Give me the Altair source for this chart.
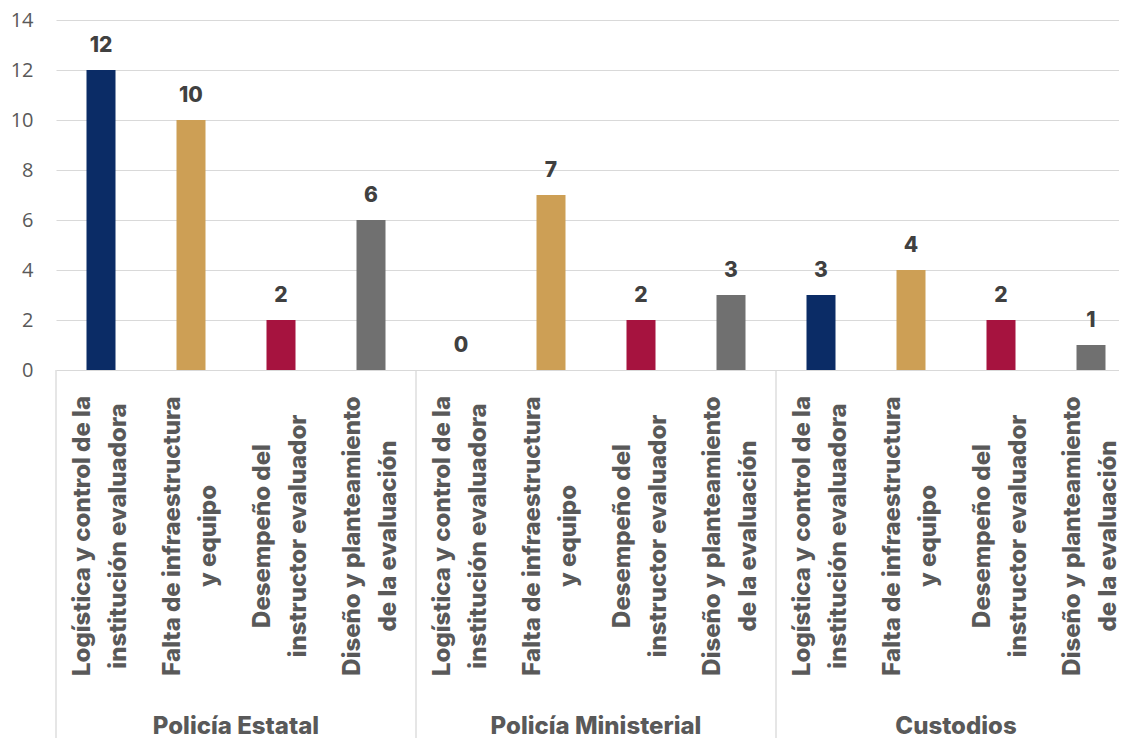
import altair as alt
import pandas as pd

# ---- data ----
groups = ["Policía Estatal", "Policía Ministerial", "Custodios"]
categories = [
    "Logística y control de la institución evaluadora",
    "Falta de infraestructura y equipo",
    "Desempeño del instructor evaluador",
    "Diseño y planteamiento de la evaluación",
]
label_lines = [
    "Logística y control de la\ninstitución evaluadora",
    "Falta de infraestructura\ny equipo",
    "Desempeño del\ninstructor evaluador",
    "Diseño y planteamiento\nde la evaluación",
]
estatal = [12, 10, 2, 6]
ministerial = [0, 7, 2, 3]
custodios = [3, 4, 2, 1]
y_ticks = [0, 2, 4, 6, 8, 10, 12, 14]
colors = ["#0B2C66", "#CD9F55", "#A6133F", "#707070"]

W = 1063
H = 350
BOTTOM = 368
STEP = 90
LINE_H = 36

# ---- tables ----
rows = []
for gi, (g, vals) in enumerate(zip(groups, [estatal, ministerial, custodios])):
    for ci, (c, v) in enumerate(zip(categories, vals)):
        p = gi * len(categories) + ci
        rows.append({"group": g, "category": c, "label": label_lines[ci],
                     "value": v, "pos": p,
                     # two-line block centred under its bar
                     "label_pos": p - (LINE_H / 2) / STEP})
df = pd.DataFrame(rows)

ncat = len(categories)
sep_df = pd.DataFrame({"pos": [gi * ncat - 0.5 for gi in range(len(groups))]})
grp_df = pd.DataFrame({"group": groups,
                       "pos": [gi * ncat + (ncat - 1) / 2 for gi in range(len(groups))]})

xscale = alt.Scale(domain=[-0.5, -0.5 + W / STEP], nice=False, zero=False, padding=0)
X = alt.X("pos:Q", scale=xscale, axis=None)

TICK_FONT = "Open Sans"
LABEL_FONT = "Inter"
GRAY = "#595959"

bars = alt.Chart(df).mark_bar(size=29).encode(
    x=X,
    y=alt.Y("value:Q", scale=alt.Scale(domain=[0, 14], nice=False, padding=0),
            axis=alt.Axis(values=y_ticks, title=None, domain=False, ticks=False,
                          labelFontSize=20, labelColor=GRAY, labelFont=TICK_FONT,
                          labelPadding=23, gridColor="#d9d9d9", gridWidth=1.2)),
    color=alt.Color("category:N", scale=alt.Scale(domain=categories, range=colors),
                    legend=None),
)

values = alt.Chart(df).mark_text(
    dy=-18, baseline="alphabetic", fontSize=21, fontWeight=800,
    color="#404040", font=LABEL_FONT,
).encode(x=X, y=alt.Y("value:Q"), text=alt.Text("value:Q"))

cat_labels = alt.Chart(df).mark_text(
    angle=270, align="center", baseline="middle", lineBreak="\n", lineHeight=LINE_H,
    fontSize=24, fontWeight=800, color=GRAY, font=LABEL_FONT,
).encode(x=alt.X("label_pos:Q", scale=xscale, axis=None),
         y=alt.value(516), text="label:N")

seps = alt.Chart(sep_df).mark_rule(color="#d9d9d9", strokeWidth=1.3).encode(
    x=X, y=alt.value(H), y2=alt.value(H + BOTTOM)
)

grp_labels = alt.Chart(grp_df).mark_text(
    baseline="middle", align="center", fontSize=24, fontWeight=800,
    color=GRAY, font=LABEL_FONT,
).encode(x=X, y=alt.value(707), text="group:N")

chart = alt.layer(seps, bars, values, cat_labels, grp_labels).properties(
    width=W, height=H,
    autosize=alt.AutoSizeParams(type="none"),
    padding={"left": 48, "top": 12, "right": 0, "bottom": BOTTOM},
).configure_view(stroke=None)

chart.save("out.html", embed_options={"renderer": "svg", "actions": False})
